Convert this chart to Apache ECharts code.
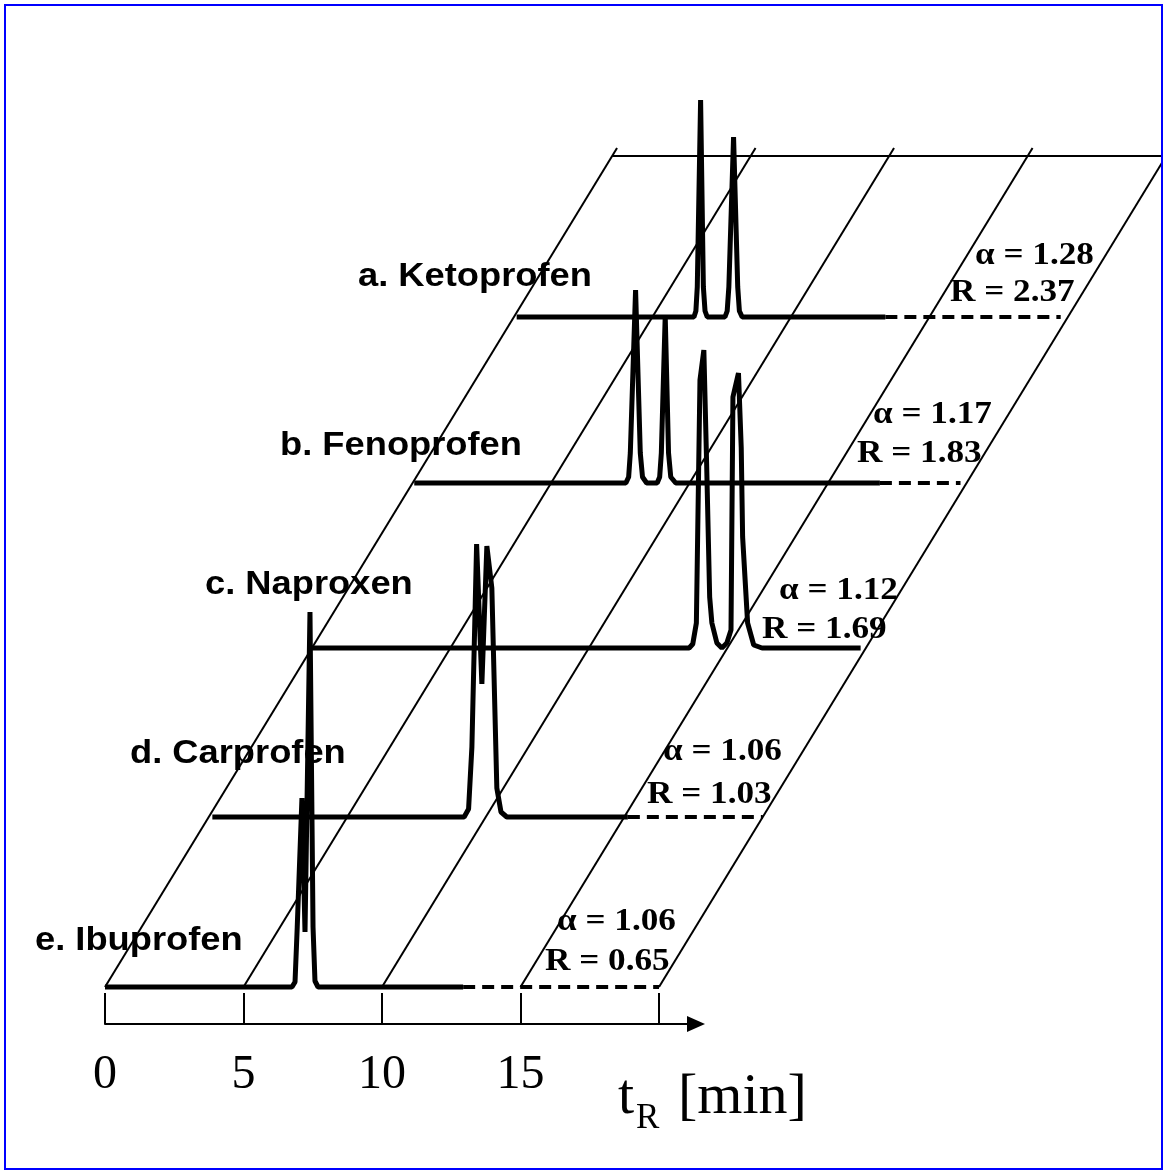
<!DOCTYPE html>
<html>
<head>
<meta charset="utf-8">
<script src="https://cdn.jsdelivr.net/npm/echarts@6/dist/echarts.min.js"></script>
<style>
html,body{margin:0;padding:0;background:#fff;}
#chart{width:1167px;height:1174px;}
</style>
</head>
<body>
<div id="chart"></div>
<script>
// ---------------- DATA ----------------
const categories = ['a. Ketoprofen', 'b. Fenoprofen', 'c. Naproxen', 'd. Carprofen', 'e. Ibuprofen'];
const alphaValues = [1.28, 1.17, 1.12, 1.06, 1.06];
const resolutionValues = [2.37, 1.83, 1.69, 1.03, 0.65];
const gridTimes = [0, 5, 10, 15, 20];
const tickValues = [0, 5, 10, 15, 20];
const tickLabels = [0, 5, 10, 15];

// chromatogram traces: [t (min), signal]
const ketoprofen = [[0.1,0],[6.50,0],[6.57,6],[6.62,30],[6.74,217],[6.84,30],[6.90,6],[6.98,0],[7.62,0],[7.70,6],[7.76,30],[7.93,180],[8.08,30],[8.14,6],[8.24,0],[13.41,0]];
const fenoprofen = [[0.06,0],[7.70,0],[7.80,6],[7.86,30],[8.05,193],[8.22,30],[8.30,6],[8.45,0],[8.83,0],[8.92,6],[8.98,30],[9.12,167],[9.24,30],[9.32,6],[9.50,0],[16.87,0]];
const naproxen = [[0,0],[13.62,0],[13.75,4],[13.88,25],[14.01,268],[14.15,298],[14.25,185],[14.36,51],[14.44,25],[14.62,5],[14.80,0],[14.98,5],[15.13,18],[15.20,251],[15.40,275],[15.50,200],[15.55,111],[15.73,25],[15.95,3],[16.25,0],[19.81,0]];
const carprofen = [[0.13,0],[9.22,0],[9.38,8],[9.50,70],[9.67,273],[9.86,133],[10.04,271],[10.22,229],[10.40,29],[10.55,5],[10.76,0],[15.13,0]];
const ibuprofen = [[0,0],[6.75,0],[6.86,5],[6.94,60],[7.11,189],[7.22,55],[7.40,375],[7.51,60],[7.58,6],[7.69,0],[12.93,0]];
const traces = [ketoprofen, fenoprofen, naproxen, carprofen, ibuprofen];
// dashed continuation of each baseline [from, to] (min); null = none
const dashedRanges = [[13.41,19.74],[16.87,19.78],null,[15.13,20.0],[12.93,20.0]];

// ---------------- LAYOUT ----------------
const PX_PER_MIN = 27.7;
const X0 = 105;                  // pixel of t = 0
const GRID_W = 1162;
const LIFT = [670, 504, 339, 170, 0];   // vertical lift of each trace (signal units = px)
const SLANT = 0.6103 / PX_PER_MIN;      // min of depth shift per unit of lift
const GRID_TOP_LIFT = 839;
const TOP_LINE_LIFT = 831;

function place(t, s, lift) { return [t + SLANT * lift, s + lift]; }

const xMin = -X0 / PX_PER_MIN;
const xMax = xMin + GRID_W / PX_PER_MIN;

const series = [];
// slanted grid lines
gridTimes.forEach(t => {
  series.push({
    type: 'line', xAxisIndex: 0, yAxisIndex: 0, symbol: 'none', silent: true,
    data: [place(t, 0, 0), place(t, 0, GRID_TOP_LIFT)],
    lineStyle: { color: '#000', width: 2 }, z: 2
  });
});
// top line
series.push({
  type: 'line', xAxisIndex: 0, yAxisIndex: 0, symbol: 'none', silent: true,
  data: [place(0, 0, TOP_LINE_LIFT), [xMax, TOP_LINE_LIFT]],
  lineStyle: { color: '#000', width: 2 }, z: 2
});
// traces
traces.forEach((tr, k) => {
  series.push({
    type: 'line', name: categories[k], xAxisIndex: 0, yAxisIndex: 0, symbol: 'none', silent: true,
    data: tr.map(p => place(p[0], p[1], LIFT[k])),
    lineStyle: { color: '#000', width: 5, join: 'bevel' }, z: 3
  });
  const dr = dashedRanges[k];
  if (dr) {
    series.push({
      type: 'line', xAxisIndex: 0, yAxisIndex: 0, symbol: 'none', silent: true,
      data: [place(dr[0], 0, LIFT[k]), place(dr[1], 0, LIFT[k])],
      lineStyle: { color: '#000', width: 4, type: [12, 7] }, z: 3
    });
  }
});
// empty series on axis grid so the axis renders
series.push({ type: 'line', xAxisIndex: 1, yAxisIndex: 1, data: [], symbol: 'none' });

// ---------------- TEXT ----------------
const nameLeft = [358, 280, 205, 130, 35];
const nameY = [277, 446, 585, 754, 941];
const alphaLeft = [975, 873, 779, 663, 557];
const alphaY = [256, 415, 591, 752, 922];
const resLeft = [950, 857, 762, 647, 545];
const resY = [293, 454, 630, 795, 962];

const graphics = [];
categories.forEach((c, k) => {
  graphics.push({
    type: 'text', x: nameLeft[k], y: nameY[k], scaleX: 1.1, z: 10,
    style: { text: c, fill: '#000', fontFamily: 'Liberation Sans, Arial, sans-serif', fontWeight: 'bold', fontSize: 33, textAlign: 'left', textVerticalAlign: 'middle' }
  });
  graphics.push({
    type: 'text', x: alphaLeft[k], y: alphaY[k], scaleX: 1.1, z: 10,
    style: { text: 'α = ' + alphaValues[k].toFixed(2), fill: '#000', fontFamily: 'Liberation Serif, Times New Roman, serif', fontWeight: 'bold', fontSize: 32, textAlign: 'left', textVerticalAlign: 'middle' }
  });
  graphics.push({
    type: 'text', x: resLeft[k], y: resY[k], scaleX: 1.1, z: 10,
    style: { text: 'R = ' + resolutionValues[k].toFixed(2), fill: '#000', fontFamily: 'Liberation Serif, Times New Roman, serif', fontWeight: 'bold', fontSize: 32, textAlign: 'left', textVerticalAlign: 'middle' }
  });
});
// axis title t_R [min]
graphics.push({ type: 'text', x: 618, y: 1098, z: 10,
  style: { text: 't', fill: '#000', fontFamily: 'Liberation Serif, serif', fontSize: 58, textAlign: 'left', textVerticalAlign: 'middle' } });
graphics.push({ type: 'text', x: 636, y: 1119, z: 10,
  style: { text: 'R', fill: '#000', fontFamily: 'Liberation Serif, serif', fontSize: 35, textAlign: 'left', textVerticalAlign: 'middle' } });
graphics.push({ type: 'text', x: 678, y: 1098, z: 10,
  style: { text: '[min]', fill: '#000', fontFamily: 'Liberation Serif, serif', fontSize: 58, textAlign: 'left', textVerticalAlign: 'middle' } });
// blue frame
graphics.push({ type: 'rect', z: 20, silent: true,
  shape: { x: 5, y: 5, width: 1157, height: 1164 },
  style: { fill: 'none', stroke: '#0000ff', lineWidth: 2 } });

// ---------------- CHART ----------------
const chart = echarts.init(document.getElementById('chart'), null, { renderer: 'canvas' });
const AXIS_W = 591;
const axisMax = AXIS_W / PX_PER_MIN;
chart.setOption({
  backgroundColor: '#fff',
  animation: false,
  grid: [
    { left: 0, top: 0, width: GRID_W, height: 1174 },
    { left: X0, top: 990, width: AXIS_W, height: 34 }
  ],
  xAxis: [
    { type: 'value', gridIndex: 0, min: xMin, max: xMax, show: false },
    { type: 'value', gridIndex: 1, min: 0, max: axisMax,
      axisLine: { show: true, onZero: false, symbol: ['none', 'triangle'], symbolSize: [16, 18], lineStyle: { color: '#000', width: 2 } },
      axisTick: { show: true, inside: true, length: 31, customValues: tickValues, lineStyle: { color: '#000', width: 2 } },
      axisLabel: { show: true, customValues: tickLabels, margin: 27, color: '#000', fontFamily: 'Liberation Serif, Times New Roman, serif', fontSize: 48, formatter: v => String(v) },
      splitLine: { show: false }
    }
  ],
  yAxis: [
    { type: 'value', gridIndex: 0, min: -187, max: 987, show: false },
    { type: 'value', gridIndex: 1, min: 0, max: 1, show: false }
  ],
  series: series,
  graphic: graphics
});
</script>
</body>
</html>
